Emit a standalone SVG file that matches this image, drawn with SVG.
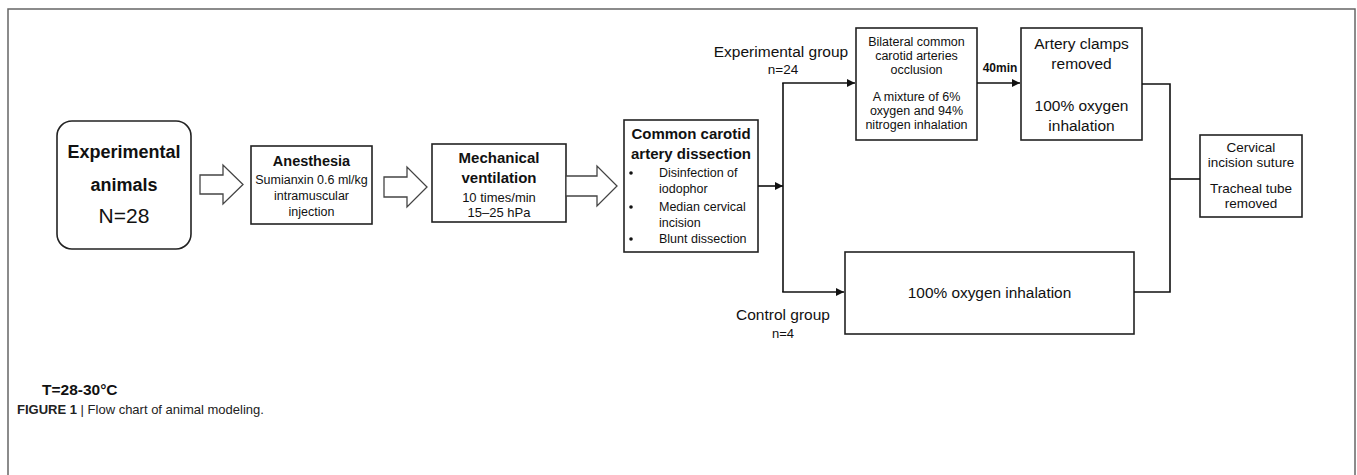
<svg xmlns="http://www.w3.org/2000/svg" width="1357" height="475" viewBox="0 0 1357 475">
<defs>
<style>
.box{fill:#fff;stroke:#222;stroke-width:1.6}
.blk{fill:#fff;stroke:#444;stroke-width:1.3}
.t{font-family:"Liberation Sans",Arial,sans-serif;fill:#111;text-anchor:middle}
.b{font-weight:bold}
.ln{fill:none;stroke:#111;stroke-width:1.6}
</style>
<marker id="ah" viewBox="0 0 10 10" refX="10" refY="5" markerWidth="10" markerHeight="8" markerUnits="userSpaceOnUse" orient="auto"><path d="M0,0 L10,5 L0,10 z" fill="#111"/></marker>
</defs>
<rect width="1357" height="475" fill="#fff"/>
<rect x="8" y="9" width="1347" height="480" fill="none" stroke="#666" stroke-width="1.5"/>

<g id="n-animals">
<rect class="box" x="57" y="121" width="134" height="128" rx="15"/>
<text class="t b" x="124" y="158" font-size="18">Experimental</text>
<text class="t b" x="124" y="191" font-size="18">animals</text>
<text class="t" x="124" y="223" font-size="21">N=28</text>
</g>
<g id="arrow1"><path class="blk" d="M200,175 H223 V165 L243,184.5 L223,204 V194 H200 Z"/></g>
<g id="n-anesthesia">
<rect class="box" x="251" y="146" width="121" height="78"/>
<text class="t b" x="311.5" y="166" font-size="14.5">Anesthesia</text>
<text class="t" x="311.5" y="184" font-size="12.5">Sumianxin 0.6 ml/kg</text>
<text class="t" x="311.5" y="200" font-size="12.5">intramuscular</text>
<text class="t" x="311.5" y="216" font-size="12.5">injection</text>
</g>
<g id="arrow2"><path class="blk" d="M384,177 H407 V167 L427,187 L407,207 V197 H384 Z"/></g>
<g id="n-ventilation">
<rect class="box" x="432" y="144" width="134" height="78"/>
<text class="t b" x="499" y="163" font-size="15">Mechanical</text>
<text class="t b" x="499" y="183" font-size="15">ventilation</text>
<text class="t" x="499" y="202" font-size="13">10 times/min</text>
<text class="t" x="499" y="217" font-size="13">15–25 hPa</text>
</g>
<g id="arrow3"><path class="blk" d="M566,176 H597 V166 L617,186 L597,206 V196 H566 Z"/></g>
<g id="n-dissection">
<rect class="box" x="624" y="120" width="134" height="132"/>
<text class="t b" x="691" y="139" font-size="15">Common carotid</text>
<text class="t b" x="691" y="159" font-size="15">artery dissection</text>
<circle cx="631" cy="173" r="1.8" fill="#111"/>
<circle cx="631" cy="207" r="1.8" fill="#111"/>
<circle cx="631" cy="239" r="1.8" fill="#111"/>
<g font-family="'Liberation Sans',Arial,sans-serif" font-size="12.5" fill="#111">
<text x="659" y="177">Disinfection of</text>
<text x="659" y="193">iodophor</text>
<text x="659" y="211">Median cervical</text>
<text x="659" y="227">incision</text>
<text x="659" y="243">Blunt dissection</text>
</g>
</g>
<g id="n-occlusion">
<rect class="box" x="856" y="28" width="121" height="112"/>
<g class="t" font-size="12.5">
<text x="916.5" y="46">Bilateral common</text>
<text x="916.5" y="60">carotid arteries</text>
<text x="916.5" y="74">occlusion</text>
<text x="916.5" y="101">A mixture of 6%</text>
<text x="916.5" y="115">oxygen and 94%</text>
<text x="916.5" y="129">nitrogen inhalation</text>
</g>
</g>
<g id="n-clamps">
<rect class="box" x="1021" y="28" width="121" height="112"/>
<g class="t" font-size="15.5">
<text x="1081.5" y="49">Artery clamps</text>
<text x="1081.5" y="69">removed</text>
<text x="1081.5" y="111">100% oxygen</text>
<text x="1081.5" y="131">inhalation</text>
</g>
</g>
<g id="n-control">
<rect class="box" x="845" y="252" width="289" height="82"/>
<text class="t" x="989.5" y="298" font-size="15.4">100% oxygen inhalation</text>
</g>
<g id="n-suture">
<rect class="box" x="1200" y="135" width="102" height="82"/>
<g class="t" font-size="13.5">
<text x="1251" y="152">Cervical</text>
<text x="1251" y="167">incision  suture</text>
<text x="1251" y="193">Tracheal tube</text>
<text x="1251" y="208">removed</text>
</g>
</g>

<g id="connectors">
<line class="ln" x1="758" y1="186" x2="783" y2="186" marker-end="url(#ah)"/>
<line class="ln" x1="783" y1="83" x2="783" y2="292"/>
<line class="ln" x1="782.2" y1="83" x2="855" y2="83" marker-end="url(#ah)"/>
<line class="ln" x1="782.2" y1="292" x2="844" y2="292" marker-end="url(#ah)"/>
<line class="ln" x1="977" y1="83" x2="1020" y2="83" marker-end="url(#ah)"/>
<polyline class="ln" points="1142,84 1170,84 1170,292 1134,292"/>
<line class="ln" x1="1170" y1="179" x2="1200" y2="179"/>
</g>

<g id="labels">
<text class="t" x="781" y="57" font-size="15.5">Experimental group</text>
<text class="t" x="783" y="74" font-size="13.5">n=24</text>
<text class="t b" x="1000" y="72" font-size="12">40min</text>
<text class="t" x="783" y="320" font-size="15.5">Control group</text>
<text class="t" x="783" y="338" font-size="13">n=4</text>
<text x="42" y="395" font-family="'Liberation Sans',Arial,sans-serif" font-weight="bold" font-size="15.5" fill="#111">T=28-30°C</text>
<text x="17" y="414" font-family="'Liberation Sans',Arial,sans-serif" font-size="13" fill="#222"><tspan font-weight="bold">FIGURE 1</tspan> | Flow chart of animal modeling.</text>
</g>
</svg>
